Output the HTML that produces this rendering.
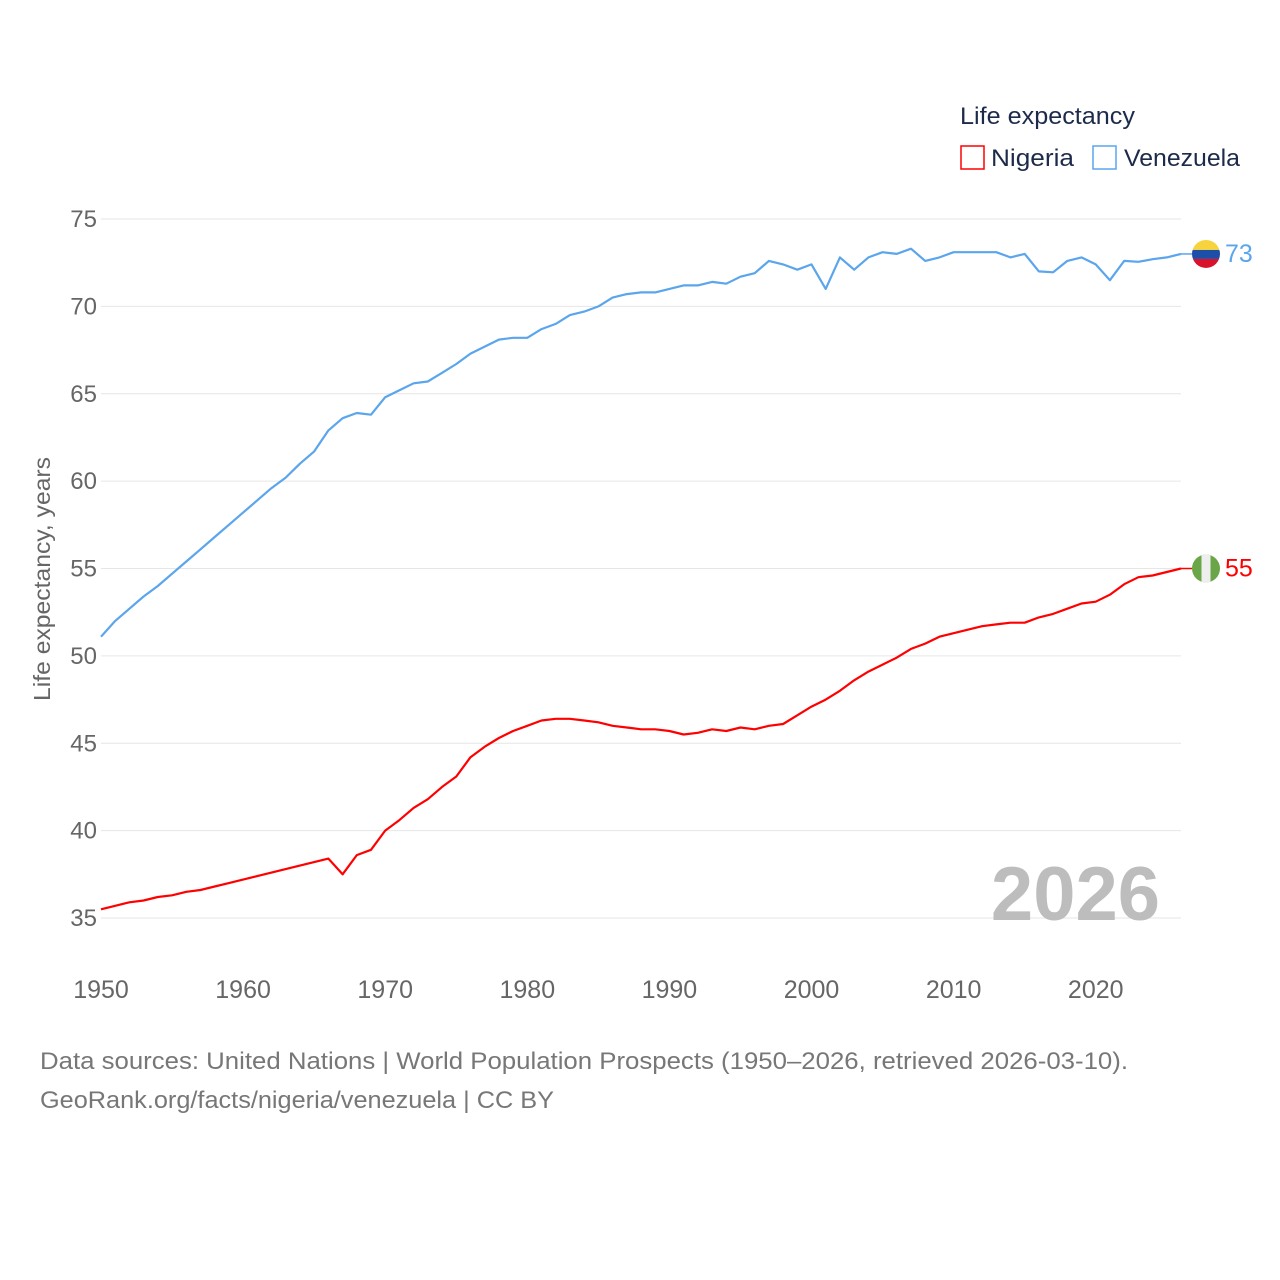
<!DOCTYPE html>
<html><head><meta charset="utf-8"><style>
html,body{margin:0;padding:0;background:#fff;}
svg{display:block;font-family:"Liberation Sans",sans-serif;}
</style></head><body>
<svg id="chart" width="1280" height="1280" viewBox="0 0 1280 1280" xmlns="http://www.w3.org/2000/svg">
<g id="grid"></g>
<g id="yticks"></g>
<g id="xticks"></g>
<text transform="translate(50,579) rotate(-90)" text-anchor="middle" font-size="23" fill="#666" textLength="244" lengthAdjust="spacingAndGlyphs">Life expectancy, years</text>
<text x="1160" y="920" text-anchor="end" font-size="76" font-weight="bold" fill="#bdbdbd">2026</text>
<g id="series"></g>
<g>
<text x="960" y="124" font-size="24" fill="#1d2b4a" textLength="175" lengthAdjust="spacingAndGlyphs">Life expectancy</text>
<g><rect x="961" y="146" width="23" height="23" fill="none" stroke="#f00" stroke-width="1.5"/><text x="991" y="166" font-size="24" fill="#1d2b4a" textLength="83" lengthAdjust="spacingAndGlyphs">Nigeria</text></g>
<g><rect x="1093" y="146" width="23" height="23" fill="none" stroke="#5aa5ec" stroke-width="1.5"/><text x="1124" y="166" font-size="24" fill="#1d2b4a" textLength="116" lengthAdjust="spacingAndGlyphs">Venezuela</text></g>
</g>
<text x="40" y="1069" font-size="24" fill="#777" textLength="1088" lengthAdjust="spacingAndGlyphs">Data sources: United Nations | World Population Prospects (1950–2026, retrieved 2026-03-10).</text>
<text x="40" y="1108" font-size="24" fill="#777" textLength="514" lengthAdjust="spacingAndGlyphs">GeoRank.org/facts/nigeria/venezuela | CC BY</text>
</svg>
<script>
const years = [];
for (let y = 1950; y <= 2026; y++) years.push(y);
const venezuela = [51.1,52.0,52.7,53.4,54.0,54.7,55.4,56.1,56.8,57.5,58.2,58.9,59.6,60.2,61.0,61.7,62.9,63.6,63.9,63.8,64.8,65.2,65.6,65.7,66.2,66.7,67.3,67.7,68.1,68.2,68.2,68.7,69.0,69.5,69.7,70.0,70.5,70.7,70.8,70.8,71.0,71.2,71.2,71.4,71.3,71.7,71.9,72.6,72.4,72.1,72.4,71.0,72.8,72.1,72.8,73.1,73.0,73.3,72.6,72.8,73.1,73.1,73.1,73.1,72.8,73.0,72.0,71.95,72.6,72.8,72.4,71.5,72.6,72.55,72.7,72.8,73.0];
const nigeria = [35.5,35.7,35.9,36.0,36.2,36.3,36.5,36.6,36.8,37.0,37.2,37.4,37.6,37.8,38.0,38.2,38.4,37.5,38.6,38.9,40.0,40.6,41.3,41.8,42.5,43.1,44.2,44.8,45.3,45.7,46.0,46.3,46.4,46.4,46.3,46.2,46.0,45.9,45.8,45.8,45.7,45.5,45.6,45.8,45.7,45.9,45.8,46.0,46.1,46.6,47.1,47.5,48.0,48.6,49.1,49.5,49.9,50.4,50.7,51.1,51.3,51.5,51.7,51.8,51.9,51.9,52.2,52.4,52.7,53.0,53.1,53.5,54.1,54.5,54.6,54.8,55.0];
const yTicks = [35,40,45,50,55,60,65,70,75];
const xTicks = [1950,1960,1970,1980,1990,2000,2010,2020];
const NS='http://www.w3.org/2000/svg';
const X = v => 101 + (v-1950)*(1080/76);
const Y = v => 219 + (75-v)*(699/40);
function mk(tag, attrs, parent){const e=document.createElementNS(NS,tag);for(const k in attrs)e.setAttribute(k,attrs[k]);parent.appendChild(e);return e;}
const grid=document.getElementById('grid'), yt=document.getElementById('yticks'), xt=document.getElementById('xticks'), ser=document.getElementById('series');
yTicks.forEach(t=>{
  const l=mk('line',{x1:101,x2:1181,y1:Y(t),y2:Y(t),stroke:'#e6e6e6','stroke-width':1},grid);
  
  
  const tx=mk('text',{x:97,y:Y(t)+8,'text-anchor':'end','font-size':24,fill:'#666'},yt);
  tx.textContent=t;
  
  
});
xTicks.forEach(t=>{
  const tx=mk('text',{x:X(t),y:998,'text-anchor':'middle','font-size':25,fill:'#666'},xt);
  tx.textContent=t;
  
  
});
function line(vals,color,name){
  const d=vals.map((v,i)=>(i?'L':'M')+X(years[i]).toFixed(1)+','+Y(v).toFixed(1)).join('');
  const p=mk('path',{d:d,fill:'none',stroke:color,'stroke-width':2.2,'stroke-linejoin':'round'},ser);
  
  
}
line(venezuela,'#5aa5ec','venezuela-line');
line(nigeria,'#f00','nigeria-line');
function flag(vals,color,name,kind){
  const v=vals[vals.length-1], x=X(years[years.length-1]), y=Y(v);
  const cx=x+25;
  const g=mk('g',{},ser);
  
  
  mk('line',{x1:x,x2:cx-14,y1:y,y2:y,stroke:color,'stroke-width':1.5},g);
  const id='clip-'+name;
  const cp=mk('clipPath',{id:id},g); mk('circle',{cx:cx,cy:y,r:14},cp);
  const fg=mk('g',{'clip-path':'url(#'+id+')'},g);
  if(kind==='ve'){
    mk('rect',{x:cx-14,y:y-14,width:28,height:10,fill:'#f7d43e'},fg);
    mk('rect',{x:cx-14,y:y-4,width:28,height:9,fill:'#1d4fa8'},fg);
    mk('rect',{x:cx-14,y:y+5,width:28,height:9,fill:'#d9112b'},fg);
  } else {
    mk('rect',{x:cx-14,y:y-14,width:28,height:28,fill:'#6aa547'},fg);
    mk('rect',{x:cx-4.5,y:y-14,width:9,height:28,fill:'#eeeeee'},fg);
  }
  const t=mk('text',{x:cx+19,y:y+8,'font-size':25,fill:color},g);
  t.textContent=Math.round(v);
}
flag(venezuela,'#5aa5ec','venezuela','ve');
flag(nigeria,'#f00','nigeria','ng');
</script>
</body></html>
